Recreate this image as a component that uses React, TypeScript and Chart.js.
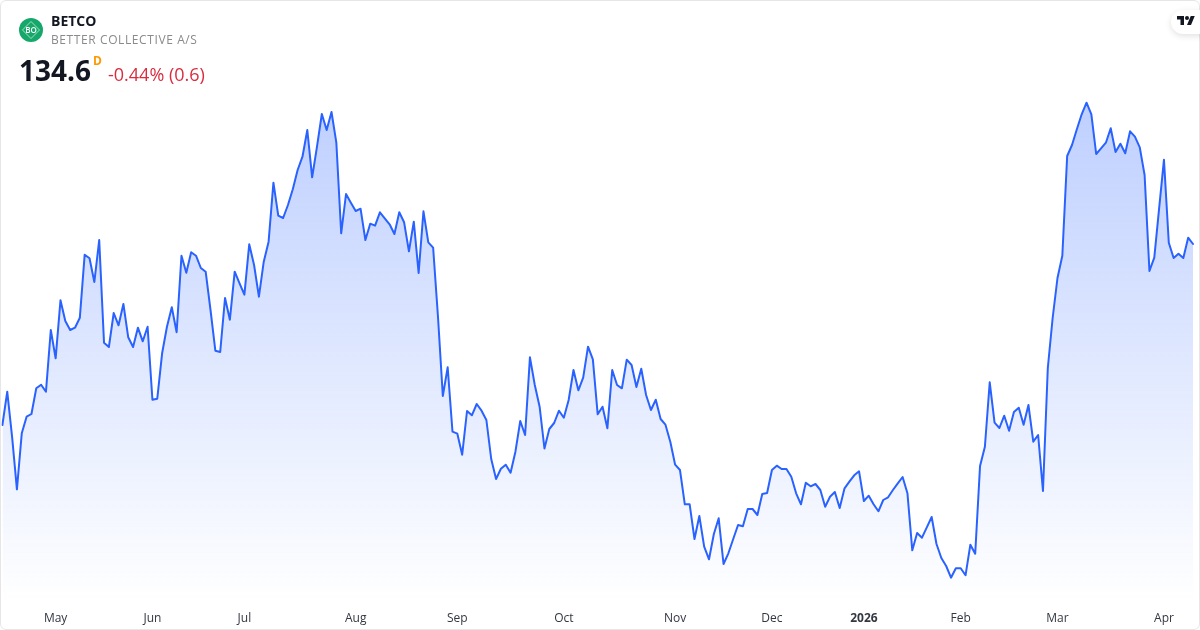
import React, { useEffect, useRef } from "react";
import { Chart, registerables } from "chart.js";

Chart.register(...registerables);

const closes = [
  116.5, 119.83, 115.33, 110.07, 115.67, 117.33, 117.6, 120.17, 120.53, 119.83,
  126, 123.17, 128.97, 126.9, 126, 126.23, 127.23, 133.53, 133.17, 130.8,
  135, 124.73, 124.3, 127.7, 126.47, 128.6, 125.27, 124.3, 126.23, 124.87,
  126.33, 119.03, 119.13, 123.67, 126.33, 128.27, 125.77, 133.43, 131.73, 133.77,
  133.43, 132.2, 131.83, 128, 123.93, 123.8, 129.2, 127.03, 131.83, 130.67,
  129.53, 134.57, 132.5, 129.33, 132.83, 134.83, 140.73, 137.43, 137.2, 138.5,
  140.07, 142, 143.33, 146, 141.27, 144.33, 147.6, 146, 147.8, 144.73,
  135.67, 139.6, 138.73, 137.9, 138.13, 135, 136.63, 136.43, 137.77, 137.17,
  136.57, 135.6, 137.77, 136.77, 133.87, 136.83, 131.7, 137.87, 134.77, 134.23,
  127.33, 119.4, 122.27, 115.83, 115.63, 113.53, 117.9, 117.47, 118.6, 117.93,
  117, 113.1, 111.1, 112.13, 112.53, 111.73, 113.83, 116.9, 115.5, 123.27,
  120.5, 118.33, 114.15, 116.1, 116.7, 117.93, 117.23, 119, 122, 119.97,
  121.23, 124.33, 123.07, 117.57, 118.33, 116.17, 122, 120.5, 120.17, 123.03,
  122.5, 120.3, 122.13, 119.5, 118, 119.03, 117.1, 116.53, 114.83, 112.53,
  112, 108.57, 108.57, 105.1, 107.4, 104.33, 103.07, 105.6, 107.17, 102.6,
  103.67, 105.1, 106.5, 106.37, 108.1, 108.1, 107.5, 109.6, 109.7, 112,
  112.43, 112.1, 112.1, 111.33, 109.67, 108.57, 110.73, 110.37, 110.6, 110,
  108.33, 109.33, 109.8, 108.2, 110.17, 110.83, 111.47, 111.87, 108.9, 109.43,
  108.57, 107.87, 109, 109.27, 110, 110.67, 111.3, 109.67, 103.97, 105.7,
  105.23, 106.27, 107.3, 104.6, 103.2, 102.4, 101.23, 102.17, 102.17, 101.47,
  104.53, 103.63, 112.4, 114.33, 120.77, 116.73, 116.2, 117.43, 115.93, 117.8,
  118.23, 116.53, 118.5, 114.83, 115.5, 109.9, 122.2, 127.2, 131.2, 133.43,
  143.4, 144.5, 146.07, 147.57, 148.73, 147.57, 143.6, 144.17, 144.73, 146.17,
  143.8, 144.63, 143.67, 145.87, 145.33, 144.27, 141.5, 131.9, 133.23, 138.17,
  143.03, 134.73, 133.2, 133.63, 133.2, 135.23, 134.6,
];

const monthLabels = ["May", "Jun", "Jul", "Aug", "Sep", "Oct", "Nov", "Dec", "2026", "Feb", "Mar", "Apr"];
const monthStarts = [11, 31, 50, 73, 94, 116, 139, 159, 178, 198, 218, 240];

const categories = closes.map((_, i) => {
  const m = monthStarts.indexOf(i);
  return m >= 0 ? monthLabels[m] : "";
});

const FONT = '"Open Sans", sans-serif';

export default function App() {
  const ref = useRef<HTMLCanvasElement>(null);

  useEffect(() => {
    document.body.style.margin = "0";
    const chart = new Chart(ref.current!, {
      type: "line",
      data: {
        labels: categories,
        datasets: [
          {
            data: closes,
            borderColor: "#2962ff",
            borderWidth: 2,
            borderJoinStyle: "round",
            borderCapStyle: "round",
            pointRadius: 0,
            tension: 0,
            fill: "start",
            backgroundColor: (ctx: any) => {
              const { chart: c } = ctx;
              const area = c.chartArea;
              if (!area) return "rgba(41,98,255,0.3)";
              const g = c.ctx.createLinearGradient(0, c.scales.y.getPixelForValue(Math.max(...closes)), 0, area.bottom);
              g.addColorStop(0, "rgba(41,98,255,0.3)");
              g.addColorStop(1, "rgba(41,98,255,0)");
              return g;
            },
          },
        ],
      },
      options: {
        responsive: false,
        animation: false,
        layout: { padding: { left: 2.4, right: 7, top: 90, bottom: 0 } },
        plugins: { legend: { display: false }, tooltip: { enabled: false } },
        scales: {
          y: { display: false, min: 98.8, max: 150 },
          x: {
            offset: false,
            grid: { display: false, drawTicks: false },
            border: { display: false },
            afterFit: (s: any) => {
              s.height = 28;
            },
            ticks: {
              autoSkip: false,
              maxRotation: 0,
              minRotation: 0,
              padding: 9,
              color: "#333741",
              font: (ctx: any) => ({
                family: FONT,
                size: 12,
                weight: ctx.tick && ctx.tick.label === "2026" ? "bold" : "normal",
              }),
              callback: (_: any, i: number) => categories[i] || null,
            },
          },
        },
      },
    });
    return () => chart.destroy();
  }, []);

  const abs: React.CSSProperties = { position: "absolute", fontFamily: FONT, whiteSpace: "nowrap", lineHeight: 1 };

  return (
    <div style={{ position: "relative", width: 1200, height: 630, overflow: "hidden", background: "#fff" }}>
      <canvas ref={ref} width={1200} height={630} style={{ display: "block", position: "absolute", left: 0, top: 0 }} />
      <div
        style={{
          position: "absolute",
          inset: 0,
          boxSizing: "border-box",
          border: "1px solid #e6e6e6",
          borderRadius: 6,
          pointerEvents: "none",
        }}
      />
      <svg style={{ position: "absolute", left: 19, top: 18 }} width={24} height={24} viewBox="0 0 24 24">
        <circle cx={12} cy={12} r={12} fill="#16a86a" />
        <path d="M12 3.5L20.5 12L12 20.5L3.5 12Z" fill="none" stroke="#c4efdb" strokeWidth={0.8} />
        <text x={12} y={14.8} textAnchor="middle" fontSize={8} fontWeight={600} fill="#ffffff" fontFamily={FONT}>
          BO
        </text>
      </svg>
      <div style={{ ...abs, left: 51, top: 14, fontSize: 14, fontWeight: 700, color: "#131722" }}>BETCO</div>
      <div style={{ ...abs, left: 51, top: 34, fontSize: 12, color: "#8a8a8a", letterSpacing: 0.6 }}>BETTER COLLECTIVE A/S</div>
      <div style={{ ...abs, left: 19, top: 56, fontSize: 28, fontWeight: 700, color: "#131722" }}>134.6</div>
      <div style={{ ...abs, left: 93, top: 55, fontSize: 12, fontWeight: 700, color: "#ff9800" }}>D</div>
      <div style={{ ...abs, left: 108, top: 65, fontSize: 18, color: "#d92d3f" }}>-0.44% (0.6)</div>
      <div
        style={{
          position: "absolute",
          left: 1171,
          top: 10,
          width: 40,
          height: 24,
          borderRadius: 12,
          background: "#fff",
          boxShadow: "0 2px 6px rgba(0,0,0,0.12)",
        }}
      />
      <svg style={{ position: "absolute", left: 1177, top: 14 }} width={18} height={14} viewBox="0 0 36 28">
        <path d="M14 22H7V11H0V4h14v18zM28 22h-8l7.5-18h8L28 22z" fill="#131722" />
        <circle cx={20} cy={8} r={4} fill="#131722" />
      </svg>
    </div>
  );
}
